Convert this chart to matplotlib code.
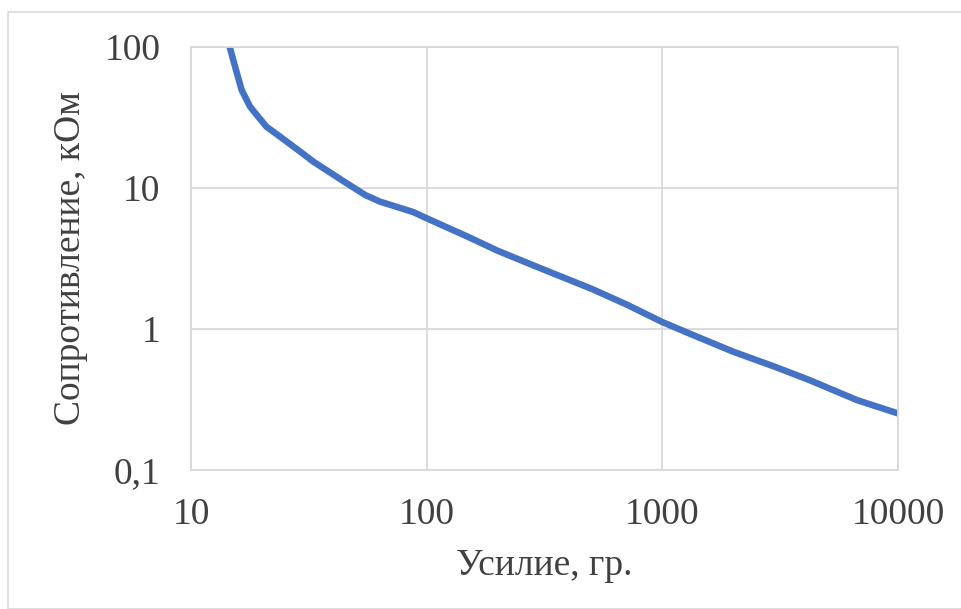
import matplotlib
matplotlib.use("Agg")
from matplotlib import pyplot as plt
from matplotlib.patches import Rectangle

# данные (Усилие, гр. -> Сопротивление, кОм)
force = [14.6, 15.1, 16.4, 17.8, 19, 20.9, 23.9, 30, 33, 45.8, 55, 63.4, 70,
         87.7, 100, 150, 200, 300, 500, 700, 1000, 1300, 2000, 3000, 4200,
         6700, 10000]
resistance = [100, 81, 49.6, 37.8, 33, 27.2, 23.1, 17.4, 15.4, 10.8, 8.9, 8.0,
              7.6, 6.75, 6.1, 4.5, 3.59, 2.72, 1.93, 1.5, 1.12, 0.93, 0.69, 0.54,
              0.435, 0.313, 0.252]

x_ticks = [10, 100, 1000, 10000]
x_labels = ["10", "100", "1000", "10000"]
y_ticks = [0.1, 1, 10, 100]
y_labels = ["0,1", "1", "10", "100"]

plt.rcParams['font.family'] = ['Liberation Serif', 'DejaVu Serif']

fig = plt.figure(figsize=(9.61, 6.09), dpi=100)
ax = fig.add_axes([191 / 961, 1 - 470 / 609, 707 / 961, 423 / 609])

# рамка всей диаграммы
fig.patches.append(Rectangle((8 / 961, 0), 1, 1 - 12 / 609, transform=fig.transFigure,
                             fill=False, edgecolor="#D9D9D9", linewidth=1.2))

ax.plot(force, resistance, color="#4472C4", linewidth=4.7,
        solid_capstyle="butt", solid_joinstyle="round")

ax.set_xscale("log")
ax.set_yscale("log")
ax.set_xlim(10, 10000)
ax.set_ylim(0.1, 100)
ax.set_xticks(x_ticks, x_labels)
ax.set_yticks(y_ticks, y_labels)
ax.minorticks_off()
ax.tick_params(length=0, labelsize=27, colors="#404040")
ax.tick_params(axis="x", pad=20)
ax.tick_params(axis="y", pad=22)

ax.grid(True, color="#D9D9D9", linewidth=1.3)
for s in ax.spines.values():
    s.set_color("#D9D9D9")
    s.set_linewidth(1.3)

ax.set_xlabel("Усилие, гр.", fontsize=27, color="#404040", labelpad=12)
ax.set_ylabel("Сопротивление, кОм", fontsize=27, color="#404040", labelpad=12)

plt.savefig("out.png", dpi=100)
plt.close()
